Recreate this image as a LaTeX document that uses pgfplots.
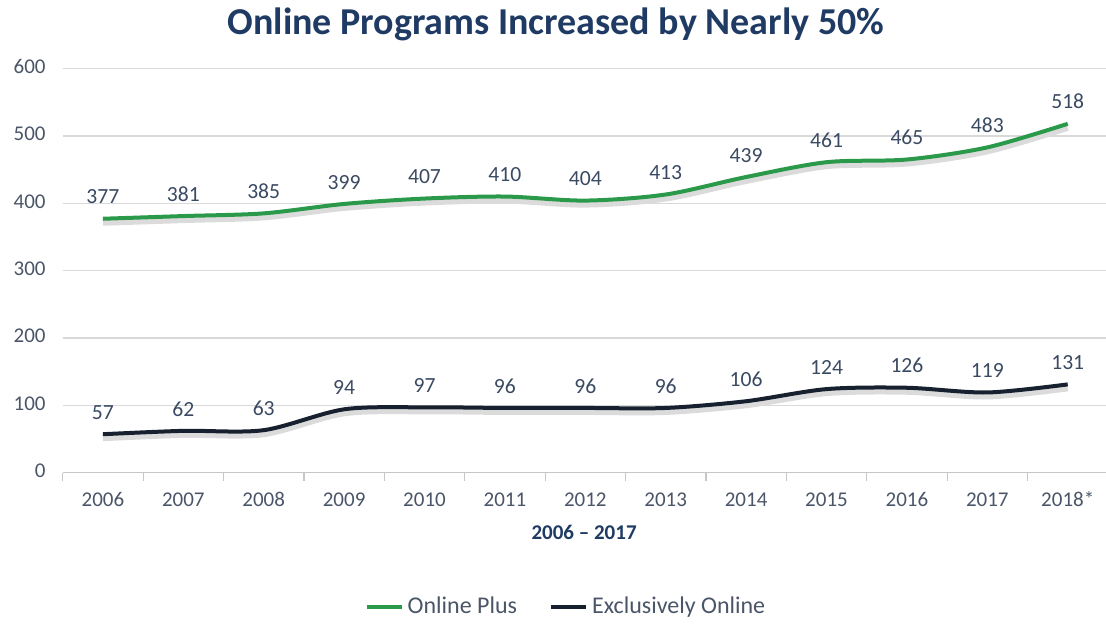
\documentclass[border=0pt]{standalone}
\usepackage{pgfplots}
\pgfplotsset{compat=1.18}
\usepackage{fontspec}
\setmainfont{Carlito}

\definecolor{titleblue}{HTML}{1F3B64}
\definecolor{plusgreen}{HTML}{2A9A4A}
\definecolor{navyline}{HTML}{17202E}
\definecolor{labeltxt}{HTML}{3A4A62}
\definecolor{ticktxt}{HTML}{4A5568}
\definecolor{gridgray}{HTML}{D9D9D9}

\begin{document}
\begin{tikzpicture}
% fix the page to the reference frame (1px = 0.5pt)
\path[use as bounding box] (-31.35pt,-75.7pt) rectangle (521.65pt,236.3pt);
\begin{axis}[
    at={(0,0)}, anchor=south west,
    scale only axis,
    width=521.4pt, height=202pt,
    xmin=-0.5, xmax=12.47,
    ymin=0, ymax=600,
    ytick={0,100,...,600},
    xtick={0,...,12},
    xticklabels={2006,2007,2008,2009,2010,2011,2012,2013,2014,2015,2016,2017,2018*},
    typeset ticklabels with strut,
    minor xtick={-0.5,0.5,...,12.5},
    major tick length=0pt,
    minor tick length=4pt,
    tick align=outside,
    axis x line*=bottom,
    axis y line*=left,
    x axis line style={draw=gridgray!80!gray, line width=0.7pt, -},
    y axis line style={draw=none},
    ymajorgrids=true,
    grid style={gridgray, line width=0.6pt},
    minor x tick style={gridgray!80!gray, line width=0.6pt},
    clip=false,
    ticklabel style={font=\fontsize{10.5}{12}\selectfont, text=ticktxt},
    yticklabel style={xshift=-5pt},
    xticklabel style={yshift=-5pt},
    /pgf/number format/assume math mode=true,
    title={Online Programs Increased by Nearly 50\%},
    title style={at={(axis description cs:0.473,1.08)}, anchor=center,
        font=\fontsize{19}{22}\selectfont\bfseries, text=titleblue},
    xlabel={2006 -- 2017},
    xlabel style={at={(axis description cs:0.5,-0.147)}, anchor=center,
        font=\fontsize{10.5}{12}\selectfont\bfseries, text=titleblue},
    legend style={at={(axis description cs:0.4836,-0.333)}, anchor=center,
        legend columns=2, draw=none, fill=none,
        font=\fontsize{12}{14}\selectfont, text=ticktxt,
        /tikz/every even column/.append style={column sep=14pt}},
    legend image code/.code={\draw[#1, line width=2pt] (0pt,0pt) -- (17.5pt,0pt);},
    nodes near coords,
    every node near coord/.append style={font=\fontsize{10.8}{12}\selectfont,
        text=labeltxt, yshift=3pt},
]
% soft shadows under the lines
\addplot[smooth, black!14, line width=3pt, transform canvas={yshift=-2pt},
    nodes near coords={}, forget plot] coordinates {
    (0,377) (1,381) (2,385) (3,399) (4,407) (5,410) (6,404)
    (7,413) (8,439) (9,461) (10,465) (11,483) (12,518)};
\addplot[smooth, black!14, line width=3pt, transform canvas={yshift=-2pt},
    nodes near coords={}, forget plot] coordinates {
    (0,57) (1,62) (2,63) (3,94) (4,97) (5,96) (6,96)
    (7,96) (8,106) (9,124) (10,126) (11,119) (12,131)};

\addplot[smooth, plusgreen, line width=2pt, mark=none] coordinates {
    (0,377) (1,381) (2,385) (3,399) (4,407) (5,410) (6,404)
    (7,413) (8,439) (9,461) (10,465) (11,483) (12,518)};
\addlegendentry{Online Plus}

\addplot[smooth, navyline, line width=2pt, mark=none] coordinates {
    (0,57) (1,62) (2,63) (3,94) (4,97) (5,96) (6,96)
    (7,96) (8,106) (9,124) (10,126) (11,119) (12,131)};
\addlegendentry{Exclusively Online}
\end{axis}
\end{tikzpicture}
\end{document}
